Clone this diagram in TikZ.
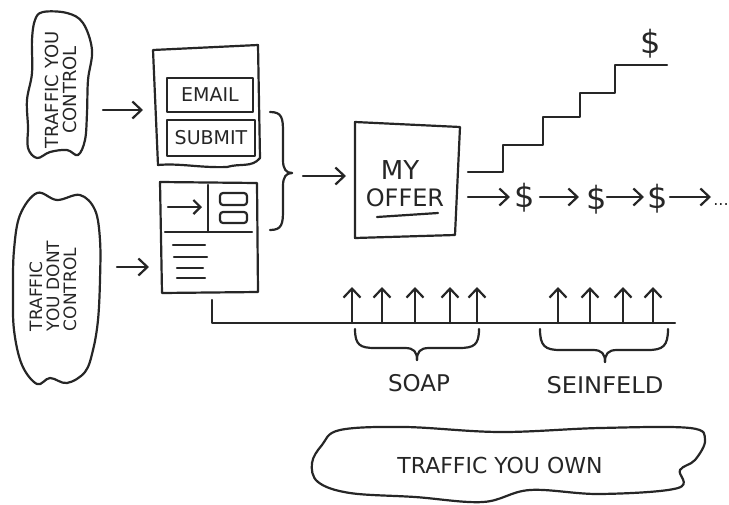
\documentclass[tikz,border=0pt]{standalone}
\usepackage{fontspec}
\setmainfont{DejaVu Sans}
\usetikzlibrary{arrows.meta}
\definecolor{inkc}{HTML}{262626}
\begin{document}
\begin{tikzpicture}[x=1pt,y=-1pt,
  ink/.style={line width=2.2pt,line cap=round,line join=round,draw=inkc},
  arr/.style={ink,-{Straight Barb[length=9pt,width=17pt]}},
  lbl/.style={text=inkc,inner sep=0pt}]
\useasboundingbox (0,0) rectangle (729,504);

% blob: traffic you control
\draw[ink] plot[smooth cycle,tension=0.6] coordinates {(43,12) (67,13) (83,23) (92,50) (88,80) (87,113) (85,140) (78,155) (67,150) (50,152) (37,158) (28,148) (28,127) (27,100) (32,73) (32,40) (35,20)};
\node[lbl,rotate=90,align=center,font=\fontsize{18}{18}\selectfont] (tyc) at (61,90) {TRAFFIC YOU\\CONTROL};

% blob: traffic you don't control
\draw[ink] plot[smooth cycle,tension=0.6] coordinates {(37,193) (57,200) (80,195) (95,210) (100,240) (100,280) (98,320) (93,350) (85,372) (67,383) (50,378) (37,384) (22,365) (14,330) (13,290) (14,250) (20,215)};
\node[lbl,rotate=90,align=left,font=\fontsize{17}{17}\selectfont] (tydc) at (53,286) {TRAFFIC\\YOU DONT\\CONTROL};

% arrows into pages
\coordinate (a1s) at (103,110); \coordinate (a1e) at (143,110);
\coordinate (a2s) at (117,267); \coordinate (a2e) at (149,267);
\draw[arr] (a1s) -- (a1e);
\draw[arr] (a2s) -- (a2e);

% top page (opt-in form)
\draw[ink] (153,50) -- (258,45) -- (260,158) .. controls (252,168) and (240,163) .. (227,167) .. controls (200,168) and (180,163) .. (158,165) -- cycle;
\node[ink,lbl,minimum width=86pt,minimum height=34pt,font=\fontsize{19}{20}\selectfont] (email) at (210,95) {EMAIL};
\node[ink,lbl,minimum width=88pt,minimum height=36pt,font=\fontsize{19}{20}\selectfont] (submit) at (211,138) {SUBMIT};

% bottom page
\draw[ink] (160,182) -- (257,183) -- (258,292) -- (162,293) -- cycle;
\draw[ink] (165,232) -- (252,232);
\draw[ink] (208,185) -- (208,232);
\coordinate (pa1) at (168,207); \coordinate (pa2) at (202,207);
\draw[ink,-{Straight Barb[length=7pt,width=14pt]}] (pa1) -- (pa2);
\draw[ink,rounded corners=3pt] (220,193) rectangle (247,205);
\draw[ink,rounded corners=3pt] (220,212) rectangle (247,223);
\draw[ink] (173,245) -- (205,245);
\draw[ink] (174,257) -- (207,257);
\draw[ink] (177,268) -- (203,268);
\draw[ink] (177,278) -- (205,278);

% right brace
\coordinate (btip) at (292,173);
\draw[ink] (270,112) .. controls (282,112) and (283,118) .. (283,132) -- (283,160) .. controls (283,169) and (286,173) .. (btip);
\draw[ink] (270,230) .. controls (282,230) and (283,224) .. (283,210) -- (283,186) .. controls (283,177) and (286,173) .. (btip);
\coordinate (b2s) at (303,176); \coordinate (b2e) at (346,176);
\draw[arr] (b2s) -- (b2e);

% offer
\draw[ink] (355,122) -- (460,127) -- (455,235) -- (355,238) -- cycle;
\node[lbl,font=\fontsize{26}{28}\selectfont] (my) at (400,170) {MY};
\node[lbl,font=\fontsize{24}{26}\selectfont] (offer) at (405,198) {OFFER};
\draw[ink] (377,217) -- (438,213);

% staircase
\draw[ink] (468,172) -- (503,172) -- (503,145) -- (543,145) -- (543,117) -- (580,117) -- (580,93) -- (615,93) -- (615,65) -- (667,65);
\node[lbl,font=\fontsize{32}{34}\selectfont] (dtop) at (651,44) {\$};

% dollar chain
\node[lbl,font=\fontsize{32}{34}\selectfont] (d1) at (525,198) {\$};
\node[lbl,font=\fontsize{32}{34}\selectfont] (d2) at (597,200) {\$};
\node[lbl,font=\fontsize{32}{34}\selectfont] (d3) at (658,199) {\$};
\node[lbl,font=\fontsize{16}{18}\selectfont] (dots) at (721,205) {...};
\coordinate (c0) at (468,197); \coordinate (c1) at (510,197);
\coordinate (c2) at (540,197); \coordinate (c3) at (579,197);
\coordinate (c4) at (607,197); \coordinate (c5) at (644,197);
\coordinate (c6) at (670,197); \coordinate (c7) at (711,197);
\draw[arr] (c0) -- (c1);
\draw[arr] (c2) -- (c3);
\draw[arr] (c4) -- (c5);
\draw[arr] (c6) -- (c7);

% timeline
\coordinate (t0) at (212,300); \coordinate (t1) at (212,323); \coordinate (t2) at (675,323);
\draw[ink] (t0) -- (t1) -- (t2);
\foreach \x in {352,382,415,450,477,558,590,623,653}
  \draw[arr] (\x,323) -- (\x,287);

% brace under SOAP
\coordinate (s1) at (417,360);
\draw[ink] (355,329) .. controls (355,345) and (360,348) .. (375,348) -- (405,348) .. controls (414,348) and (417,352) .. (s1);
\draw[ink] (479,329) .. controls (479,345) and (474,348) .. (459,348) -- (429,348) .. controls (420,348) and (417,352) .. (s1);
\node[lbl,font=\fontsize{23}{25}\selectfont] (soap) at (419,383) {SOAP};

% brace under SEINFELD
\coordinate (s2) at (605,362);
\draw[ink] (540,329) .. controls (540,346) and (545,350) .. (560,350) -- (593,350) .. controls (602,350) and (605,354) .. (s2);
\draw[ink] (668,329) .. controls (668,346) and (663,350) .. (648,350) -- (617,350) .. controls (608,350) and (605,354) .. (s2);
\node[lbl,font=\fontsize{23}{25}\selectfont,xscale=1.05] (seinfeld) at (605,385) {SEINFELD};

% blob: traffic you own
\draw[ink] plot[smooth cycle,tension=0.6] coordinates {(312,463) (322,445) (340,430) (405,427) (500,432) (600,428) (690,428) (705,440) (695,460) (680,470) (678,488) (600,494) (530,490) (483,502) (415,497) (350,493) (318,482)};
\node[lbl,font=\fontsize{22}{24}\selectfont] (tyo) at (500,465) {TRAFFIC YOU OWN};
\end{tikzpicture}
\end{document}
